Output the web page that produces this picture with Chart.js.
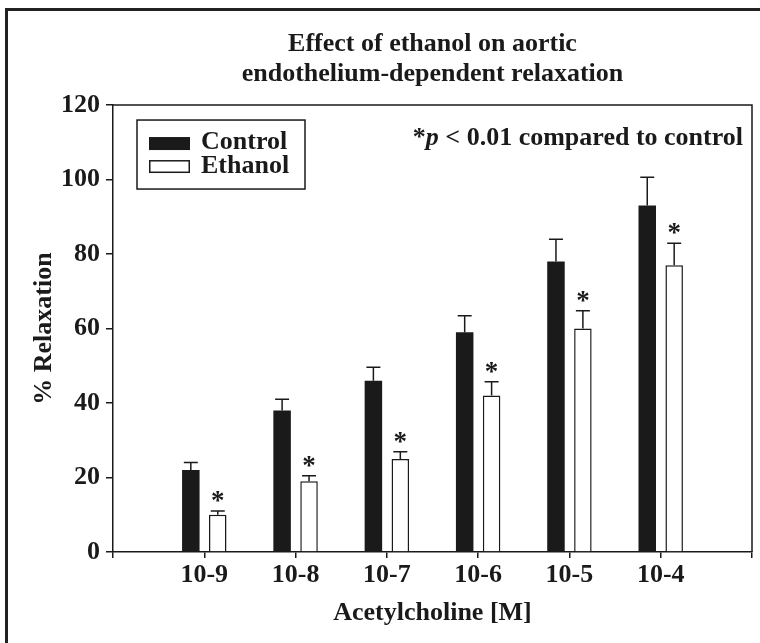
<!DOCTYPE html>
<html>
<head>
<meta charset="utf-8">
<script src="https://cdn.jsdelivr.net/npm/chart.js@4.4.1/dist/chart.umd.min.js"></script>
<style>
  html, body { margin: 0; padding: 0; background: #fff; }
  #wrap { position: relative; width: 760px; height: 643px; overflow: hidden; }
  #frame { position: absolute; left: 5px; top: 8px; width: 800px; height: 700px;
           border-top: 3px solid #222; border-left: 3px solid #222; }
  canvas { position: absolute; left: 0; top: 0; }
</style>
</head>
<body>
<div id="wrap">
  <div id="frame"></div>
  <canvas id="chart" width="760" height="643"></canvas>
</div>
<script>
// data
let categories = ['10-9', '10-8', '10-7', '10-6', '10-5', '10-4'];
let controlMean = [22, 38, 46, 59, 78, 93];
let controlErr = [2, 3, 3.6, 4.4, 6, 7.6];
let ethanolMean = [10, 19, 25, 42, 60, 77];
let ethanolErr = [1, 1.5, 1.9, 3.7, 4.8, 5.9];
let yTicks = [0, 20, 40, 60, 80, 100, 120];

let ink = '#1a1a1a';
let fam = '"Liberation Serif", "Times New Roman", serif';
let bigFont = { family: fam, size: 26, weight: 'bold' };

// empty slot on each side so the axis runs past the first/last group
let labels = [''].concat(categories, ['']);
let pad = arr => [null].concat(arr, [null]);

// error bars, asterisks, legend, note and plot box
let extras = {
    id: 'extras',
    afterDatasetsDraw(chart) {
        let ctx = chart.ctx;
        let y = chart.scales.y;
        let area = chart.chartArea;
        let errs = [controlErr, ethanolErr];
        let means = [controlMean, ethanolMean];

        ctx.save();
        ctx.strokeStyle = ink;
        ctx.fillStyle = ink;
        ctx.lineWidth = 1.5;

        chart.data.datasets.forEach((ds, d) => {
            let meta = chart.getDatasetMeta(d);
            categories.forEach((c, i) => {
                let bar = meta.data[i + 1];
                let top = y.getPixelForValue(means[d][i] + errs[d][i]);
                ctx.beginPath();
                ctx.moveTo(bar.x, bar.y);
                ctx.lineTo(bar.x, top);
                ctx.moveTo(bar.x - 7, top);
                ctx.lineTo(bar.x + 7, top);
                ctx.stroke();
                if (d === 1) {
                    ctx.font = 'bold 27px ' + fam;
                    ctx.textAlign = 'center';
                    ctx.textBaseline = 'alphabetic';
                    ctx.fillText('*', bar.x, top - 2);
                }
            });
        });

        // box round the plot
        ctx.beginPath();
        ctx.moveTo(area.left, area.top);
        ctx.lineTo(area.right, area.top);
        ctx.lineTo(area.right, area.bottom);
        ctx.stroke();

        // legend
        let lx = area.left + 24, ly = area.top + 15;
        ctx.strokeRect(lx, ly, 168, 69);
        ctx.font = 'bold 26px ' + fam;
        ctx.textAlign = 'left';
        ctx.textBaseline = 'alphabetic';
        chart.data.datasets.forEach((ds, d) => {
            let sy = ly + 17 + d * 23;
            ctx.fillStyle = ds.backgroundColor;
            ctx.fillRect(lx + 12, sy, 41, 13);
            if (ds.borderWidth) {
                ctx.lineWidth = 1.5;
                ctx.strokeRect(lx + 12.75, sy + 0.75, 39.5, 11.5);
            }
            ctx.fillStyle = ink;
            ctx.fillText(ds.label, lx + 64, ly + 29 + d * 23.5);
        });

        // significance note
        let parts = [
            ['*', 'bold 26px ' + fam],
            ['p', 'italic bold 26px ' + fam],
            [' < ', 'bold 26px ' + fam],
            ['0.01 compared to control', 'bold 26px ' + fam]
        ];
        let total = 0;
        parts.forEach(p => { ctx.font = p[1]; total += ctx.measureText(p[0]).width; });
        let nx = area.right - 9 - total;
        parts.forEach(p => {
            ctx.font = p[1];
            ctx.fillText(p[0], nx, area.top + 40);
            nx += ctx.measureText(p[0]).width;
        });
        ctx.restore();
    }
};

new Chart(document.getElementById('chart'), {
    type: 'bar',
    data: {
        labels: labels,
        datasets: [{
            label: 'Control',
            data: pad(controlMean),
            backgroundColor: ink,
            borderWidth: 0
        }, {
            label: 'Ethanol',
            data: pad(ethanolMean),
            backgroundColor: '#ffffff',
            borderColor: ink,
            borderWidth: 1.5
        }]
    },
    options: {
        responsive: false,
        animation: false,
        categoryPercentage: 0.59,
        barPercentage: 0.65,
        layout: { padding: { left: 0, right: 8, top: 0, bottom: 0 } },
        plugins: {
            legend: { display: false },
            tooltip: { enabled: false },
            title: {
                display: true,
                fullSize: false,
                text: ['Effect of ethanol on aortic', 'endothelium-dependent relaxation'],
                color: ink,
                font: { family: fam, size: 26, weight: 'bold', lineHeight: 1.17 },
                padding: { top: 28.75, bottom: 15.45 }
            }
        },
        scales: {
            x: {
                type: 'category',
                offset: false,
                grid: { offset: false, drawOnChartArea: false, tickLength: 6, color: ink, lineWidth: 1.5 },
                border: { color: ink, width: 1.5 },
                ticks: { font: bigFont, color: ink, padding: 2, autoSkip: false, maxRotation: 0 },
                title: {
                    display: true, text: 'Acetylcholine [M]', color: ink, font: bigFont,
                    padding: { top: 0, bottom: 14 }
                },
                afterFit(s) { s.height = 91; }
            },
            y: {
                min: 0,
                max: 120,
                afterBuildTicks(s) { s.ticks = yTicks.map(v => ({ value: v })); },
                grid: { drawOnChartArea: false, tickLength: 7, color: ink, lineWidth: 1.5 },
                border: { color: ink, width: 1.5 },
                ticks: { font: bigFont, color: ink, padding: 6 },
                title: {
                    display: true, text: '% Relaxation', color: ink, font: bigFont,
                    padding: { top: 29, bottom: 0 }
                },
                afterFit(s) { s.width = 113; }
            }
        }
    },
    plugins: [extras]
});
</script>
</body>
</html>
